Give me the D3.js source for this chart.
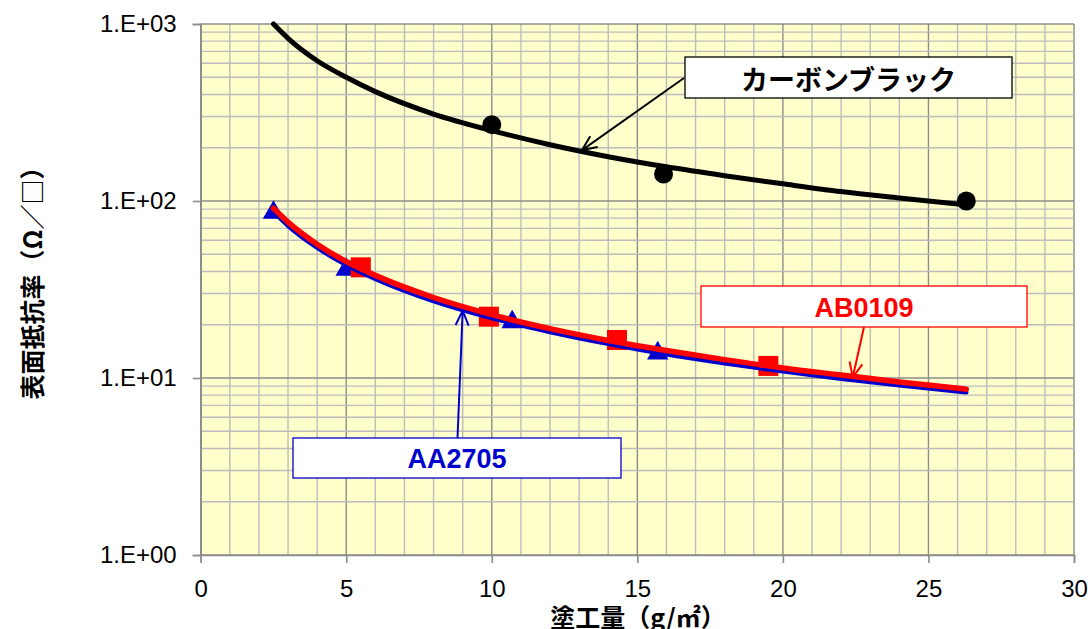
<!DOCTYPE html>
<html>
<head>
<meta charset="utf-8">
<script src="https://cdn.jsdelivr.net/npm/d3@7"></script>
<style>
  html, body { margin: 0; padding: 0; background: #ffffff; }
  svg { display: block; }
</style>
</head>
<body>
<svg id="chart" width="1090" height="629"></svg>
<script>
/********/
/* data */
/********/

// measured points
const carbonX = [10.0, 15.9, 26.3];
const carbonY = [270, 142, 100];
const ab0109X = [5.5, 9.9, 14.3, 19.5];
const ab0109Y = [42.2, 22.2, 16.4, 11.7];
const aa2705X = [2.5, 5.0, 10.7, 15.7];
const aa2705Y = [86, 41, 20.7, 13.8];

// trend lines
const trendX = [2.5, 3, 4, 5, 6, 8, 10, 12, 14, 16, 18, 20, 22, 24, 26.3];
const carbonTrend = [1000, 830, 620, 500, 415, 310, 250, 208, 178, 156, 139, 125, 113, 104, 95];
const ab0109Trend = [91, 76, 57, 45.5, 38, 28.5, 22.8, 19, 16.3, 14.3, 12.7, 11.4, 10.4, 9.5, 8.65];
const aa2705Trend = [87, 72.5, 54.5, 43.5, 36.3, 27.2, 21.8, 18.2, 15.6, 13.6, 12.1, 10.9, 9.9, 9.1, 8.3];

const xTicks = [0, 5, 10, 15, 20, 25, 30];
const yTicks = [1, 10, 100, 1000];
const yTickLabels = ["1.E+00", "1.E+01", "1.E+02", "1.E+03"];

const xTitle = "塗工量（g/㎡）";
const yTitle = "表面抵抗率（Ω／□）";

const labels = ["カーボンブラック", "AB0109", "AA2705"];

/**********/
/* layout */
/**********/

const plotLeft = 200.7;
const plotRight = 1074;
const plotTop = 24;
const plotBottom = 555;

const colours = {
  carbon: "#000000",
  ab: "#ff0000",
  aa: "#0000cc",
  bg: "#ffffcc",
  gridMajor: "#8c8c8c",
  gridMinor: "#bcbcbc",
};

const svg = d3.select("#chart");

const x = d3.scaleLinear().domain([0, 30]).range([plotLeft, plotRight]);
const y = d3.scaleLog().domain([1, 1000]).range([plotBottom, plotTop]);

/********/
/* plot */
/********/

svg
  .append("rect")
  .attr("x", plotLeft)
  .attr("y", plotTop)
  .attr("width", plotRight - plotLeft)
  .attr("height", plotBottom - plotTop)
  .attr("fill", colours.bg);

// grid
const grid = svg.append("g");
d3.range(0, 31).forEach(v => {
  grid
    .append("line")
    .attr("x1", x(v))
    .attr("x2", x(v))
    .attr("y1", plotTop)
    .attr("y2", plotBottom)
    .attr("stroke", v % 5 === 0 ? colours.gridMajor : colours.gridMinor)
    .attr("stroke-width", 1.4);
});
const yMinor = [];
[1, 10, 100].forEach(d => d3.range(2, 10).forEach(m => yMinor.push(d * m)));
yMinor.forEach(v => {
  grid
    .append("line")
    .attr("x1", plotLeft)
    .attr("x2", plotRight)
    .attr("y1", y(v))
    .attr("y2", y(v))
    .attr("stroke", colours.gridMinor)
    .attr("stroke-width", 1.4);
});
yTicks.forEach(v => {
  grid
    .append("line")
    .attr("x1", plotLeft)
    .attr("x2", plotRight)
    .attr("y1", y(v))
    .attr("y2", y(v))
    .attr("stroke", colours.gridMajor)
    .attr("stroke-width", 1.4);
});

// axes
const yAxis = svg
  .append("g")
  .attr("transform", `translate(${plotLeft},0)`)
  .call(
    d3
      .axisLeft(y)
      .tickValues(yTicks)
      .tickFormat((d, i) => yTickLabels[i])
      .tickSize(8)
      .tickPadding(16),
  );
const xAxis = svg
  .append("g")
  .attr("transform", `translate(0,${plotBottom})`)
  .call(
    d3
      .axisBottom(x)
      .tickValues(xTicks)
      .tickSize(8)
      .tickPadding(17),
  );
[yAxis, xAxis].forEach(a => {
  a.select(".domain").attr("stroke", colours.gridMajor).attr("stroke-width", 1.6);
  a.selectAll(".tick line").attr("stroke", colours.gridMajor).attr("stroke-width", 1.6);
  a.selectAll(".tick text")
    .attr("fill", "#000")
    .attr("font-family", "'Liberation Sans', Arial, sans-serif")
    .attr("font-size", 24);
});

// titles
svg
  .append("text")
  .attr("x", 638)
  .attr("y", 627)
  .attr("text-anchor", "middle")
  .attr("font-family", "'Noto Sans CJK JP', sans-serif")
  .attr("font-weight", "bold")
  .attr("font-size", 25)
  .text(xTitle);

svg
  .append("text")
  .attr("transform", "translate(31,277) rotate(-90)")
  .attr("text-anchor", "middle")
  .attr("dominant-baseline", "central")
  .attr("font-family", "'Noto Sans CJK JP', sans-serif")
  .attr("font-weight", "bold")
  .attr("font-size", 25)
  .text(yTitle);

/***********/
/* markers */
/***********/

const markers = svg.append("g");

markers
  .selectAll("circle")
  .data(carbonX)
  .enter()
  .append("circle")
  .attr("cx", d => x(d))
  .attr("cy", (d, i) => y(carbonY[i]))
  .attr("r", 9.5)
  .attr("fill", colours.carbon);

const tri = d3.symbol().type(d3.symbolTriangle).size(200);
markers
  .selectAll(".tri")
  .data(aa2705X)
  .enter()
  .append("path")
  .attr("class", "tri")
  .attr("d", tri)
  .attr("transform", (d, i) => `translate(${x(d)},${y(aa2705Y[i])})`)
  .attr("fill", colours.aa);

markers
  .selectAll(".sq")
  .data(ab0109X)
  .enter()
  .append("rect")
  .attr("class", "sq")
  .attr("x", d => x(d) - 10)
  .attr("y", (d, i) => y(ab0109Y[i]) - 10)
  .attr("width", 20)
  .attr("height", 20)
  .attr("fill", colours.ab);

/*********/
/* lines */
/*********/

const line = d3
  .line()
  .x(d => x(d[0]))
  .y(d => y(d[1]))
  .curve(d3.curveMonotoneX);

[
  [aa2705Trend, colours.aa, 4.5],
  [ab0109Trend, colours.ab, 5.5],
  [carbonTrend, colours.carbon, 5],
].forEach(([vals, colour, width]) => {
  svg
    .append("path")
    .attr("d", line(trendX.map((v, i) => [v, vals[i]])))
    .attr("fill", "none")
    .attr("stroke", colour)
    .attr("stroke-width", width)
    .attr("stroke-linecap", "round");
});

/***************/
/* annotations */
/***************/

const notes = [
  { label: labels[0], colour: colours.carbon, box: [685, 57, 327, 41], from: [684, 78], tip: [13.1, 194] },
  { label: labels[1], colour: colours.ab, box: [701, 286, 326, 41], from: [864, 327], tip: [22.4, 10.1] },
  { label: labels[2], colour: colours.aa, box: [293, 438, 328, 40], from: [457.5, 438], tip: [9.0, 24] },
];

notes.forEach(n => {
  const [bx, by, bw, bh] = n.box;
  const g = svg.append("g");
  g.append("rect")
    .attr("x", bx)
    .attr("y", by)
    .attr("width", bw)
    .attr("height", bh)
    .attr("fill", "#ffffff")
    .attr("stroke", n.colour)
    .attr("stroke-width", 1.3);
  g.append("text")
    .attr("x", bx + bw / 2)
    .attr("y", by + bh / 2 + 1)
    .attr("text-anchor", "middle")
    .attr("dominant-baseline", "central")
    .attr("font-family", n.label === labels[0] ? "'Noto Sans CJK JP', sans-serif" : "'Liberation Sans', Arial, sans-serif")
    .attr("font-weight", "bold")
    .attr("font-size", 27)
    .attr("fill", n.colour)
    .text(n.label);

  const tx = x(n.tip[0]);
  const ty = y(n.tip[1]);
  const [fx, fy] = n.from;
  const ang = Math.atan2(fy - ty, fx - tx);
  const len = 16;
  const spread = 0.42;
  g.append("line")
    .attr("x1", fx)
    .attr("y1", fy)
    .attr("x2", tx)
    .attr("y2", ty)
    .attr("stroke", n.colour)
    .attr("stroke-width", 2);
  g.append("path")
    .attr(
      "d",
      `M${tx + len * Math.cos(ang - spread)},${ty + len * Math.sin(ang - spread)}` +
        `L${tx},${ty}` +
        `L${tx + len * Math.cos(ang + spread)},${ty + len * Math.sin(ang + spread)}`,
    )
    .attr("fill", "none")
    .attr("stroke", n.colour)
    .attr("stroke-width", 2);
});
</script>
</body>
</html>
